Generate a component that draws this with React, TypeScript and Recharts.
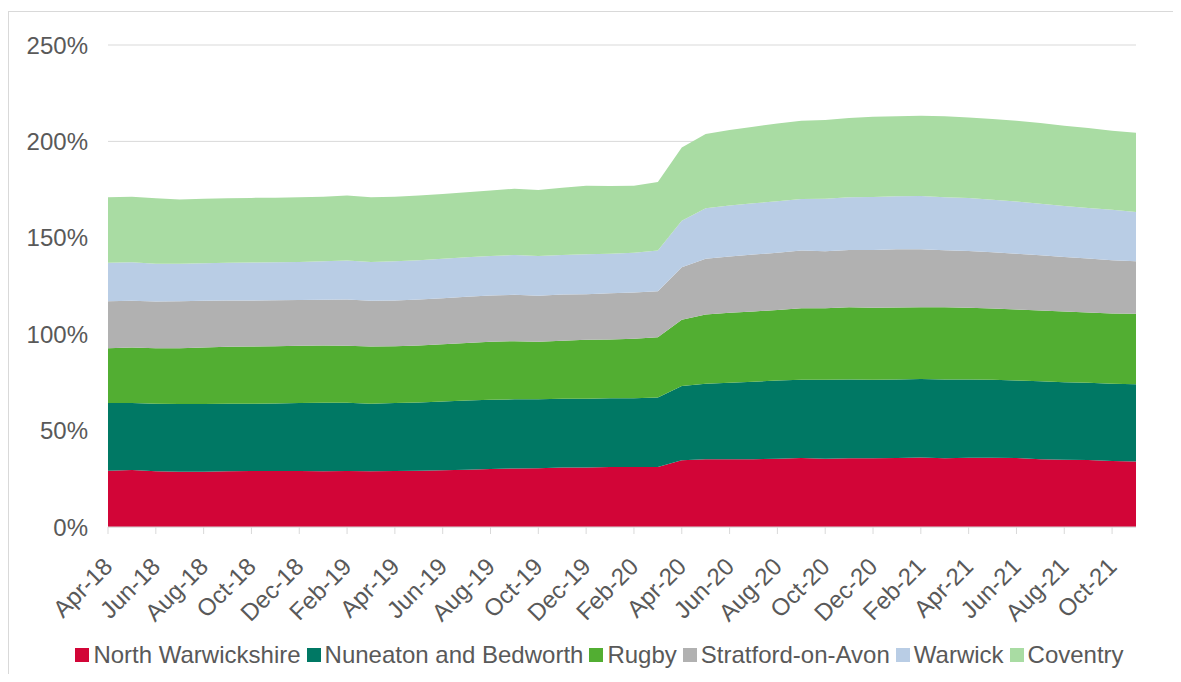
import React from "react";
import { AreaChart, Area, XAxis, YAxis, CartesianGrid } from "recharts";

const months = [
  "Apr-18", "May-18", "Jun-18", "Jul-18", "Aug-18", "Sep-18", "Oct-18", "Nov-18", "Dec-18",
  "Jan-19", "Feb-19", "Mar-19", "Apr-19", "May-19", "Jun-19", "Jul-19", "Aug-19", "Sep-19",
  "Oct-19", "Nov-19", "Dec-19", "Jan-20", "Feb-20", "Mar-20", "Apr-20", "May-20", "Jun-20",
  "Jul-20", "Aug-20", "Sep-20", "Oct-20", "Nov-20", "Dec-20", "Jan-21", "Feb-21", "Mar-21",
  "Apr-21", "May-21", "Jun-21", "Jul-21", "Aug-21", "Sep-21", "Oct-21", "Nov-21",
];

const northWarwickshire = [
  29.2, 29.5, 28.9, 28.7, 28.7, 28.9, 29.0, 29.0, 29.0, 28.9, 29.1, 28.9, 29.0, 29.2, 29.4,
  29.7, 30.1, 30.4, 30.5, 30.8, 30.9, 31.1, 31.1, 31.1, 34.6, 35.1, 35.1, 35.2, 35.4, 35.8,
  35.4, 35.6, 35.6, 35.8, 36.1, 35.6, 35.9, 35.9, 35.8, 35.2, 34.9, 34.7, 34.2, 34.0,
];
const nuneaton = [
  35.1, 34.8, 35.0, 35.1, 35.1, 35.0, 34.9, 35.1, 35.3, 35.5, 35.4, 35.0, 35.3, 35.4, 35.7,
  35.9, 35.9, 35.8, 35.7, 35.7, 35.6, 35.7, 35.7, 36.1, 38.5, 39.2, 39.7, 40.1, 40.6, 40.6,
  41.0, 40.9, 40.8, 40.7, 40.6, 40.9, 40.6, 40.5, 40.2, 40.4, 40.2, 40.1, 40.1, 40.1,
];
const rugby = [
  28.4, 28.8, 28.8, 28.9, 29.3, 29.6, 29.7, 29.7, 29.7, 29.7, 29.5, 29.7, 29.5, 29.5, 29.7,
  29.9, 30.1, 30.2, 29.9, 30.1, 30.6, 30.5, 30.8, 31.2, 34.4, 35.9, 36.3, 36.5, 36.6, 37.1,
  37.1, 37.5, 37.3, 37.3, 37.3, 37.5, 37.2, 36.9, 36.8, 36.7, 36.7, 36.4, 36.4, 36.5,
];
const stratford = [
  24.4, 24.2, 24.2, 24.4, 24.2, 24.0, 23.9, 23.8, 23.8, 23.8, 24.0, 23.7, 23.7, 23.9, 23.9,
  23.9, 24.0, 24.0, 23.8, 24.0, 23.6, 23.9, 24.0, 23.9, 27.2, 28.9, 29.2, 29.5, 29.6, 29.9,
  29.5, 29.7, 30.0, 30.2, 30.0, 29.5, 29.5, 29.2, 28.9, 28.6, 28.3, 28.0, 27.6, 27.2,
];
const warwick = [
  19.9, 20.0, 19.7, 19.5, 19.5, 19.5, 19.7, 19.7, 19.7, 19.9, 20.2, 20.2, 20.3, 20.3, 20.4,
  20.5, 20.5, 20.7, 20.7, 20.5, 20.8, 20.5, 20.6, 21.1, 24.2, 26.2, 26.4, 26.6, 26.7, 26.7,
  27.3, 27.3, 27.5, 27.5, 27.7, 27.5, 27.5, 27.3, 27.1, 26.8, 26.4, 26.3, 26.2, 25.6,
];
const coventry = [
  34.0, 34.0, 33.9, 33.3, 33.5, 33.5, 33.5, 33.5, 33.5, 33.5, 33.8, 33.5, 33.5, 33.6, 33.6,
  33.7, 33.9, 34.4, 34.2, 34.8, 35.5, 35.2, 34.8, 35.6, 38.0, 38.5, 39.2, 39.7, 40.4, 40.6,
  40.8, 41.1, 41.6, 41.6, 41.6, 42.0, 41.7, 41.8, 41.9, 41.8, 41.6, 41.4, 41.0, 41.1,
];

const yTicks = [0, 50, 100, 150, 200, 250];

const series = [
  { key: "northWarwickshire", name: "North Warwickshire", color: "#D20537", values: northWarwickshire },
  { key: "nuneaton", name: "Nuneaton and Bedworth", color: "#007864", values: nuneaton },
  { key: "rugby", name: "Rugby", color: "#52AE32", values: rugby },
  { key: "stratford", name: "Stratford-on-Avon", color: "#B1B1B1", values: stratford },
  { key: "warwick", name: "Warwick", color: "#B9CDE5", values: warwick },
  { key: "coventry", name: "Coventry", color: "#A9DCA3", values: coventry },
];

const data = months.map((month, i) => {
  const row: Record<string, string | number> = { month };
  series.forEach((s) => {
    row[s.key] = s.values[i];
  });
  return row;
});

const FONT = "'Liberation Sans', Arial, sans-serif";
const TEXT = "#595959";
const FONT_SIZE = 24;

function MonthTick({ x, y, payload }: any) {
  const px = x + 6;
  const py = y + 32;
  return (
    <text
      x={px}
      y={py}
      transform={`rotate(-45, ${px}, ${py})`}
      textAnchor="end"
      fill={TEXT}
      fontSize={FONT_SIZE}
      fontFamily={FONT}
    >
      {payload.value}
    </text>
  );
}

function LegendRow() {
  return (
    <div
      style={{
        position: "absolute",
        top: 633,
        left: 8,
        width: 1173,
        display: "flex",
        justifyContent: "center",
        fontFamily: FONT,
        fontSize: FONT_SIZE,
        color: TEXT,
        whiteSpace: "nowrap",
      }}
    >
      {series.map((s) => (
        <div key={s.key} style={{ display: "flex", alignItems: "center", marginRight: 6 }}>
          <span style={{ width: 14, height: 14, background: s.color, marginRight: 4, display: "inline-block" }} />
          <span>{s.name}</span>
        </div>
      ))}
    </div>
  );
}

export default function App() {
  return (
    <div style={{ position: "relative", width: 1173, height: 666, background: "#fff" }}>
      <style>{"html,body{overflow:hidden}"}</style>
      <div
        style={{
          position: "absolute",
          top: 3,
          left: 0,
          width: 1200,
          height: 700,
          borderTop: "1px solid #d9d9d9",
          borderLeft: "1px solid #d9d9d9",
        }}
      />
      <AreaChart
        width={1173}
        height={666}
        data={data}
        margin={{ top: 37, right: 45, bottom: 57, left: 0 }}
        style={{ position: "absolute", top: 0, left: 0 }}
      >
        <CartesianGrid vertical={false} stroke="#d9d9d9" />
        <XAxis
          dataKey="month"
          interval={1}
          height={90}
          tick={<MonthTick />}
          tickSize={7}
          tickMargin={2}
          stroke="#d9d9d9"
          tickLine={{ stroke: "#d9d9d9" }}
        />
        <YAxis
          width={100}
          domain={[0, 250]}
          ticks={yTicks}
          axisLine={false}
          tickLine={false}
          tickMargin={14}
          tickFormatter={(v: number) => `${v}%`}
          tick={{ fill: TEXT, fontSize: FONT_SIZE, fontFamily: FONT }}
        />
        {series.map((s) => (
          <Area
            key={s.key}
            type="linear"
            dataKey={s.key}
            name={s.name}
            stackId="1"
            stroke="none"
            fill={s.color}
            fillOpacity={1}
            isAnimationActive={false}
          />
        ))}
      </AreaChart>
      <LegendRow />
    </div>
  );
}
